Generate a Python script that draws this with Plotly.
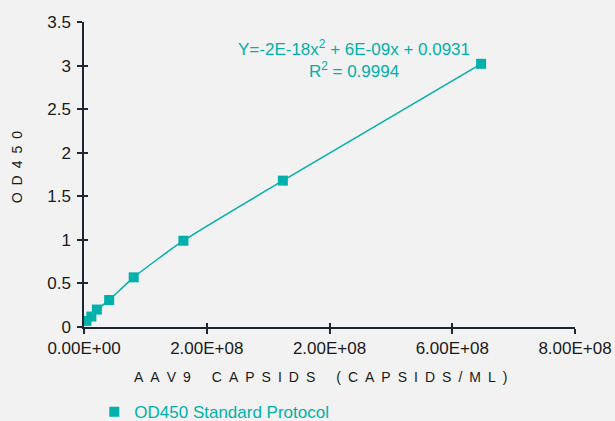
import plotly.graph_objects as go

capsids = [4e6, 1.2e7, 2.1e7, 4.1e7, 8.1e7, 1.62e8, 3.24e8, 6.47e8]
od450 = [0.07, 0.12, 0.20, 0.31, 0.57, 0.99, 1.68, 3.02]
series_name = "OD450 Standard Protocol"
x_tickvals = [0, 2e8, 4e8, 6e8, 8e8]
x_ticktext = ["0.00E+00", "2.00E+08", "2.00E+08", "6.00E+08", "8.00E+08"]
y_tickvals = [0, 0.5, 1, 1.5, 2, 2.5, 3, 3.5]
y_ticktext = ["0", "0.5", "1", "1.5", "2", "2.5", "3", "3.5"]
x_title = "AAV9 CAPSIDS (CAPSIDS/ML)"
y_title = "OD450"
equation = "Y=-2E-18x<sup>2</sup> + 6E-09x + 0.0931<br>R<sup>2</sup> = 0.9994"

TEAL = "#00B0AA"
AXIS = "#1c2636"
BG = "#F2F2F2"
FONT = "Liberation Sans, Arial, sans-serif"
TXT = "#1a1a1a"


def spaced(s):
    out = []
    for word in s.split(" "):
        out.append("\u2002".join(word))
    return "\u2002\u2002\u2002".join(out)


fig = go.Figure()
fig.add_trace(go.Scatter(
    x=capsids, y=od450, mode="lines", line=dict(color=TEAL, width=1.5, shape="spline", smoothing=0.6),
    showlegend=False, hoverinfo="skip",
))
fig.add_trace(go.Scatter(
    x=capsids, y=od450, mode="markers", name=series_name,
    marker=dict(symbol="square", size=10, color=TEAL),
    showlegend=True,
))
fig.add_trace(go.Scatter(x=[None], y=[None], xaxis="x2", yaxis="y2", showlegend=False, hoverinfo="skip"))

axis_common = dict(showgrid=False, zeroline=False, showline=True, linecolor=AXIS, linewidth=1.5,
                   ticks="outside", ticklen=5, tickwidth=1.5, tickcolor=AXIS,
                   tickfont=dict(family=FONT, size=17, color=TXT))

fig.update_layout(
    width=615, height=421,
    paper_bgcolor=BG, plot_bgcolor=BG,
    margin=dict(l=84, r=40, t=22, b=94, autoexpand=False),
    xaxis=dict(range=[0, 8e8], tickvals=x_tickvals, ticktext=x_ticktext, **axis_common),
    yaxis=dict(range=[0, 3.5], tickvals=y_tickvals, ticktext=y_ticktext, ticklabelstandoff=3, **axis_common),
    xaxis2=dict(overlaying="x", range=[0, 8e8], tickvals=x_tickvals, showticklabels=False,
                ticks="inside", ticklen=4, tickwidth=1.5, tickcolor=AXIS, showgrid=False,
                zeroline=False, showline=False, side="bottom", anchor="y"),
    yaxis2=dict(overlaying="y", range=[0, 3.5], tickvals=y_tickvals, showticklabels=False,
                ticks="inside", ticklen=4, tickwidth=1.5, tickcolor=AXIS, showgrid=False,
                zeroline=False, showline=False, side="left", anchor="x"),
    legend=dict(orientation="h", x=0.021, y=-0.279, xanchor="left", yanchor="middle",
                font=dict(family=FONT, size=17, color=TEAL), bgcolor="rgba(0,0,0,0)"),
    annotations=[
        dict(text=equation, x=0.55, y=1.0, yshift=-37, xref="paper", yref="paper",
             showarrow=False, align="center", xanchor="center", yanchor="middle",
             font=dict(family=FONT, size=17, color=TEAL)),
        dict(text=spaced(x_title), x=0.4817, y=0, yshift=-50, xref="paper", yref="paper",
             showarrow=False, xanchor="center", yanchor="middle",
             font=dict(family=FONT, size=14, color=TXT)),
        dict(text=spaced(y_title), x=0, xshift=-67, y=0.5236, xref="paper", yref="paper",
             showarrow=False, xanchor="center", yanchor="middle", textangle=-90,
             font=dict(family=FONT, size=14, color=TXT)),
    ],
)

fig.write_html("out.html", config={"displayModeBar": False},
               post_script="document.body.style.margin='0';document.body.style.background='#F2F2F2';")
